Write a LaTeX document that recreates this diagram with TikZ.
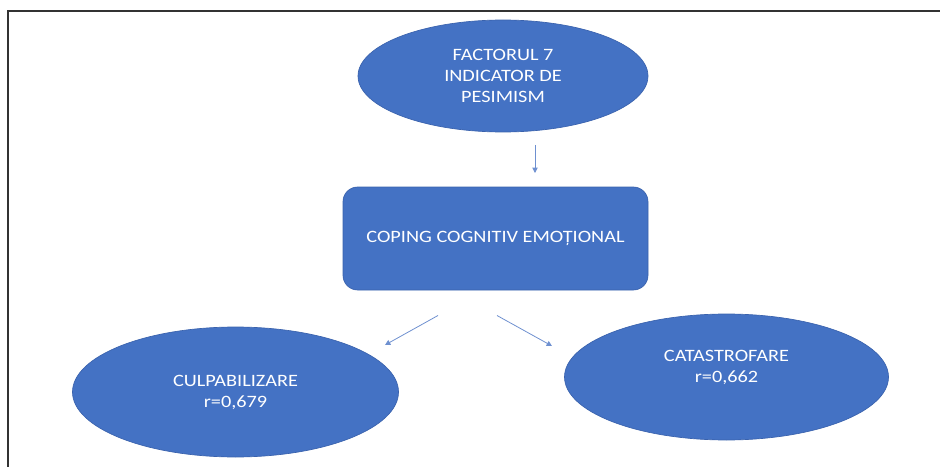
\documentclass[tikz,border=0pt]{standalone}
\usepackage{fontspec}
\setmainfont{Carlito}[FakeStretch=1.17]
\usetikzlibrary{shapes.geometric,arrows.meta,calc}
\definecolor{ofBlue}{HTML}{4472C4}
\definecolor{ofEdge}{HTML}{3A62AD}
\definecolor{ofArrow}{HTML}{6E90D0}
\definecolor{ofFrame}{HTML}{333333}

\begin{document}
\begin{tikzpicture}[
  x=0.75pt, y=-0.75pt,
  font=\fontsize{13}{15.75}\selectfont,
  oval/.style={
    ellipse, fill=ofBlue, draw=ofEdge, line width=0.5pt,
    text=white, align=center, inner sep=0pt, outer sep=0pt
  },
  card/.style={
    rectangle, rounded corners=11pt,
    fill=ofBlue, draw=ofEdge, line width=0.5pt,
    text=white, align=center, outer sep=0pt,
    minimum width=228.75pt, minimum height=77.25pt
  },
  flow/.style={
    -{Triangle[length=4pt,width=4pt]},
    draw=ofArrow, line width=0.6pt
  }
]
\useasboundingbox (0,0) rectangle (940,467);

% ---- frame ----------------------------------------------------------------
\draw[ofFrame, line width=0.8pt] (940,11) -- (8,11) -- (8,467);

% ---- nodes ----------------------------------------------------------------
\node[oval, minimum width=217.5pt, minimum height=84pt] (fact) at (503,76)
  {FACTORUL 7\\ INDICATOR DE\\ PESIMISM};

\node[card] (coping) at (495.5,238.5) {COPING COGNITIV EMOȚIONAL};

\node[oval, minimum width=244.5pt, minimum height=97.5pt] (culp) at (235.5,392)
  {CULPABILIZARE\\ r=0,679};

\node[oval, minimum width=243pt, minimum height=94.5pt] (catas) at (726.5,377)
  {\raisebox{4pt}[0pt][0pt]{\begin{tabular}{@{}c@{}}CATASTROFARE\\ r=0,662\end{tabular}}};

% ---- arrows ---------------------------------------------------------------
\coordinate (t1) at ($(fact.south)+(32,13)$);
\coordinate (t2) at ($(coping.north)+(39.5,-14)$);
\coordinate (l1) at ($(coping.south)+(-57.5,25.5)$);
\coordinate (l2) at ($(culp.north)+(149.5,18)$);
\coordinate (r1) at ($(coping.south)+(1.5,25.5)$);
\coordinate (r2) at ($(catas.north)+(-174.5,32)$);

\draw[flow] (t1) -- (t2);
\draw[flow] (l1) -- (l2);
\draw[flow] (r1) -- (r2);

\end{tikzpicture}
\end{document}
